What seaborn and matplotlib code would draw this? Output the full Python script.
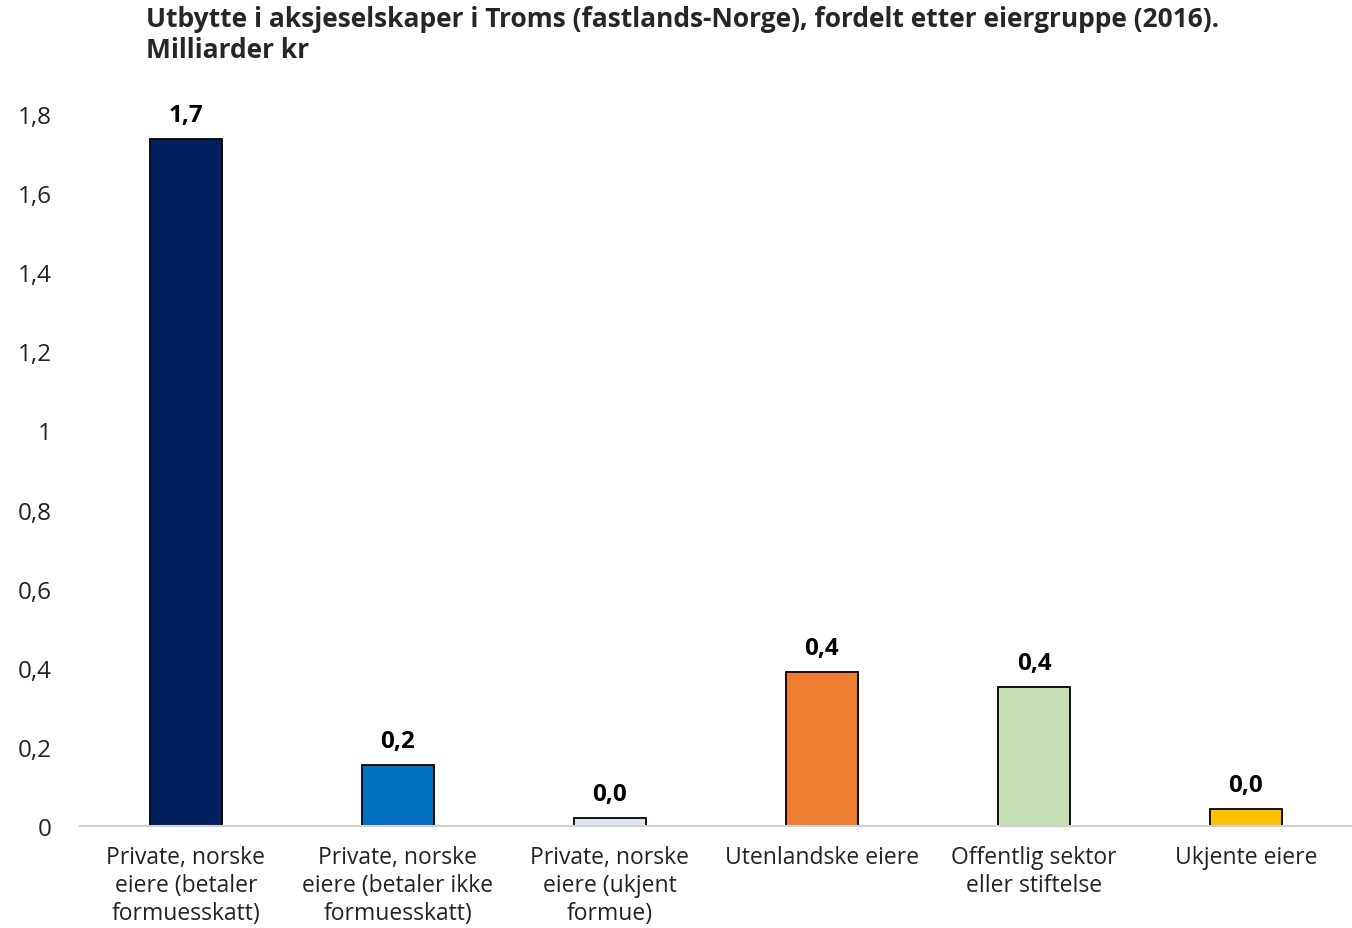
import pandas as pd
import seaborn as sns
import matplotlib.pyplot as plt

# Data
kategorier = ['Private, norske\neiere (betaler\nformuesskatt)',
              'Private, norske\neiere (betaler ikke\nformuesskatt)',
              'Private, norske\neiere (ukjent\nformue)',
              'Utenlandske eiere',
              'Offentlig sektor\neller stiftelse',
              'Ukjente eiere']
utbytte = [1.737, 0.155, 0.02, 0.39, 0.352, 0.044]
farger = ['#002060', '#0070C0', '#DCE6F2', '#ED7D31', '#C5E0B4', '#FFC000']
yticks = [0, 0.2, 0.4, 0.6, 0.8, 1, 1.2, 1.4, 1.6, 1.8]
ytick_labels = ['0', '0,2', '0,4', '0,6', '0,8', '1', '1,2', '1,4', '1,6', '1,8']

df = pd.DataFrame({'kat': kategorier, 'verdi': utbytte})

sns.set_style('white')
plt.rcParams['font.family'] = ['Open Sans', 'DejaVu Sans']

fig = plt.figure(figsize=(13.52, 9.29), dpi=100)
ax = fig.add_axes([0.059, 0.1098, 0.941, 0.7664])
sns.barplot(data=df, x='kat', y='verdi', hue='kat', palette=farger, legend=False,
            saturation=1, width=0.34, edgecolor='black', linewidth=1.3, ax=ax)

for p, v in zip(ax.patches, utbytte):
    ax.text(p.get_x() + p.get_width() / 2, v + 0.03, f'{v:.1f}'.replace('.', ','),
            ha='center', va='bottom', fontsize=17.5, fontweight='bold', color='black')

ax.set_ylim(0, 1.8)
ax.set_xlim(-0.5, 5.5)
ax.set_yticks(yticks)
ax.set_yticklabels(ytick_labels)
ax.tick_params(axis='y', labelsize=17.5, length=0, pad=20, colors='#222222')
ax.tick_params(axis='x', labelsize=16.5, length=0, pad=14, colors='#222222')
for lbl in ax.get_xticklabels():
    lbl.set_linespacing(1.22)
ax.set_xlabel('')
ax.set_ylabel('')
for s in ['top', 'right', 'left']:
    ax.spines[s].set_visible(False)
ax.spines['bottom'].set_color('#D0D0D0')
ax.spines['bottom'].set_linewidth(1.5)

fig.text(0.108, 0.994, 'Utbytte i aksjeselskaper i Troms (fastlands-Norge), fordelt etter eiergruppe (2016).\nMilliarder kr',
         ha='left', va='top', fontsize=19, fontweight='bold', linespacing=1.2)

plt.savefig('out.png', dpi=100)
